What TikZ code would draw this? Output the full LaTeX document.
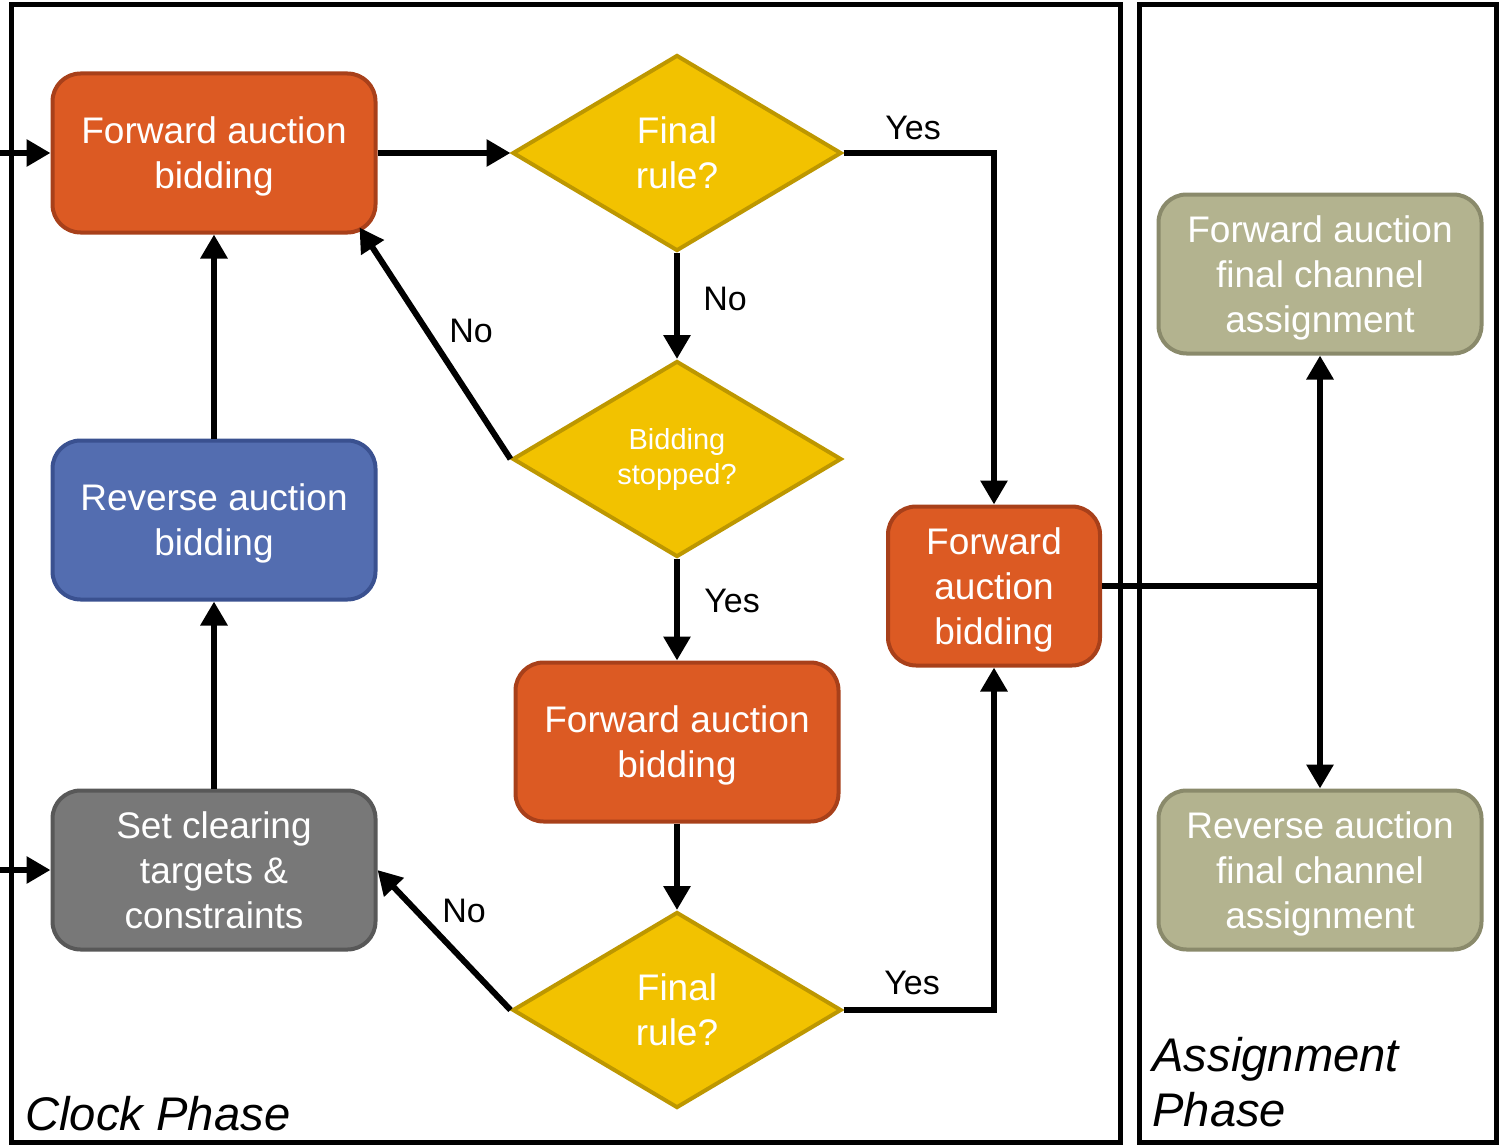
\documentclass[tikz,border=0pt]{standalone}
\usepackage{fontspec}
\setmainfont{Liberation Sans}
\usetikzlibrary{shapes.geometric,arrows.meta}
\definecolor{fwdfill}{HTML}{DC5A23}
\definecolor{fwdline}{HTML}{A8401A}
\definecolor{decfill}{HTML}{F2C200}
\definecolor{decline}{HTML}{BD9700}
\definecolor{revfill}{HTML}{536DB0}
\definecolor{revline}{HTML}{3A5190}
\definecolor{setfill}{HTML}{787878}
\definecolor{setline}{HTML}{585858}
\definecolor{asgfill}{HTML}{B3B38F}
\definecolor{asgline}{HTML}{8A8A6B}

\begin{document}
\begin{tikzpicture}[x=0.5pt,y=0.5pt,yscale=-1,
    box/.style={draw, line width=2pt, rounded corners=14pt, minimum width=161.5pt, minimum height=79.5pt, align=center, text=white, text depth=-1pt, font=\fontsize{18.5}{22.5}\selectfont},
    dec/.style={draw=decline, fill=decfill, diamond, line width=2pt, minimum width=164.5pt, minimum height=98pt, inner sep=1pt, align=center, text=white, font=\fontsize{18.5}{22.5}\selectfont},
    arr/.style={line width=3pt, -{Triangle[length=12pt,width=13pt]}},
    lbl/.style={font=\fontsize{17}{20}\selectfont},
    frame/.style={line width=2.5pt},
    phase/.style={font=\fontsize{23.6}{27.5}\selectfont\itshape, align=left, inner sep=0pt, anchor=north west}]

    \useasboundingbox (0,0) rectangle (1499,1145);

    \draw[frame] (11,5) rectangle (1120,1142);
    \draw[frame] (1139,5) rectangle (1496,1142);

    \draw (214,153) node [box, draw=fwdline, fill=fwdfill] (fwd1) {Forward auction\\bidding};
    \draw (214,520) node [box, draw=revline, fill=revfill] (rev) {Reverse auction\\bidding};
    \draw (214,870) node [box, draw=setline, fill=setfill, text depth=-3pt] (setc) {Set clearing\\targets \&\\constraints};
    \draw (677,153) node [dec] (final1) {Final\\rule?};
    \draw (677,459) node [dec, font=\fontsize{14.5}{17.5}\selectfont] (stop) {Bidding\\stopped?};
    \draw (677,742) node [box, draw=fwdline, fill=fwdfill] (fwd2) {Forward auction\\bidding};
    \draw (677,1010) node [dec] (final2) {Final\\rule?};
    \draw (994,586) node [box, draw=fwdline, fill=fwdfill, minimum width=106pt, text depth=-2pt] (fwd3) {Forward\\auction\\bidding};
    \draw (1320,274) node [box, draw=asgline, fill=asgfill] (fwdasg) {Forward auction\\final channel\\assignment};
    \draw (1320,870) node [box, draw=asgline, fill=asgfill] (revasg) {Reverse auction\\final channel\\assignment};

    \coordinate (in1) at (0,153);
    \coordinate (in2) at (0,870);
    \coordinate (split) at (fwdasg.south |- fwd3.east);

    \draw[arr] (in1) -- (fwd1.west);
    \draw[arr] (in2) -- (setc.west);
    \draw[arr] (fwd1.east) -- (final1.west);
    \draw[arr] (final1.east) -| (fwd3.north);
    \draw[arr] (final1.south) -- (stop.north);
    \draw[arr] (stop.west) -- ([shift={(-18,-7)}]fwd1.south east);
    \draw[arr] (stop.south) -- (fwd2.north);
    \draw[arr] (fwd2.south) -- (final2.north);
    \draw[arr] (final2.west) -- (setc.east);
    \draw[arr] (final2.east) -| (fwd3.south);
    \draw[arr] (setc.north) -- (rev.south);
    \draw[arr] (rev.north) -- (fwd1.south);
    \draw[line width=3pt] (fwd3.east) -- (split);
    \draw[arr] (split) -- (fwdasg.south);
    \draw[arr] (split) -- (revasg.north);

    \draw (913,128) node [lbl] {Yes};
    \draw (725,299) node [lbl] {No};
    \draw (471,331) node [lbl] {No};
    \draw (732,601) node [lbl] {Yes};
    \draw (464,911) node [lbl] {No};
    \draw (912,983) node [lbl] {Yes};

    \draw (25,1096) node [phase] {Clock Phase};
    \draw (1152,1037) node [phase] {Assignment\\Phase};

\end{tikzpicture}
\end{document}
